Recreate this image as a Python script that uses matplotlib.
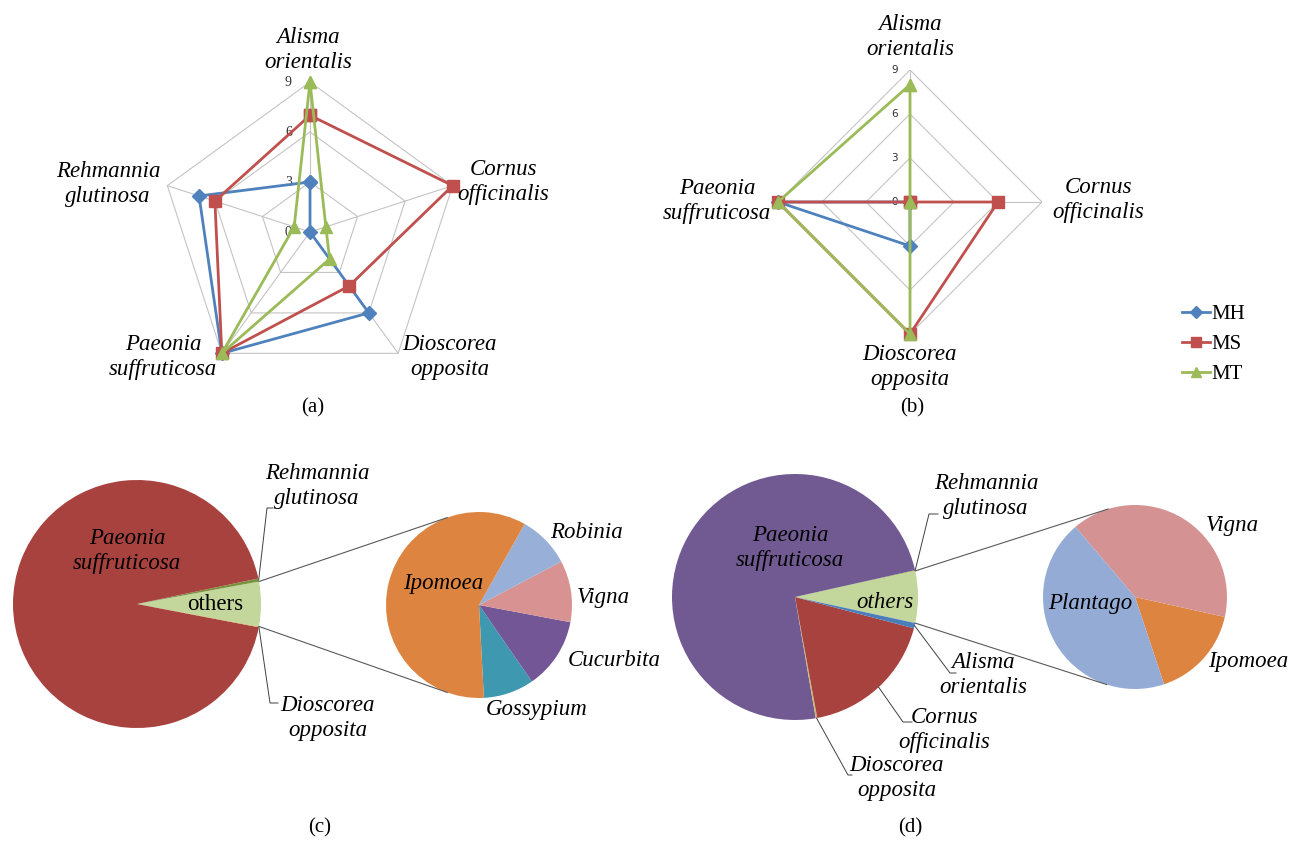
import numpy as np
import matplotlib.pyplot as plt

plt.rcParams['font.family'] = ['Liberation Serif', 'DejaVu Serif']

W, H = 1290, 843

# ── Radar (a): relative abundance on the five host herbs ─────────────────────
RADAR_A_AXES = ["Alisma\norientalis", "Cornus\nofficinalis", "Dioscorea\nopposita",
                "Paeonia\nsuffruticosa", "Rehmannia\nglutinosa"]
RADAR_A_MH = [3, 0, 6, 9, 7]
RADAR_A_MS = [7, 9, 4, 9, 6]
RADAR_A_MT = [9, 1, 2, 9, 1]

# ── Radar (b): four host herbs ───────────────────────────────────────────────
RADAR_B_AXES = ["Alisma\norientalis", "Cornus\nofficinalis", "Dioscorea\nopposita",
                "Paeonia\nsuffruticosa"]
RADAR_B_MH = [0, 0, 3, 9]
RADAR_B_MS = [0, 6, 9, 9]
RADAR_B_MT = [8, 0, 9, 9]

RADAR_TICKS = [0, 3, 6, 9]
SERIES_NAMES = ["MH", "MS", "MT"]

# ── Pie (c): main pie + breakdown of "others" ────────────────────────────────
PIE_C_LABELS = ["others", "Rehmannia glutinosa", "Paeonia suffruticosa", "Dioscorea opposita"]
PIE_C_VALUES = [5.8, 0.4, 93.7, 0.1]
SUB_C_LABELS = ["Gossypium", "Cucurbita", "Vigna", "Robinia", "Ipomoea"]
SUB_C_VALUES = [8.8, 12.4, 10.7, 9.1, 59.0]

# ── Pie (d) ──────────────────────────────────────────────────────────────────
PIE_D_LABELS = ["others", "Rehmannia glutinosa", "Paeonia suffruticosa",
                "Dioscorea opposita", "Cornus officinalis", "Alisma orientalis"]
PIE_D_VALUES = [6.8, 0.1, 74.2, 0.2, 18.0, 0.7]
SUB_D_LABELS = ["Ipomoea", "Vigna", "Plantago"]
SUB_D_VALUES = [16.4, 39.7, 43.9]

# styles
SERIES_STYLE = [("#4F81BD", "D", 7), ("#C0504D", "s", 8.5), ("#9BBB59", "^", 9)]
GRID_C = "#C4C4C4"
LABEL_FS = 16.5

fig = plt.figure(figsize=(W / 100, H / 100), dpi=100)


def px_box(cx, cy, r):
    """Axes rectangle (figure fraction) for a square of half-size r px centred at (cx, cy)."""
    return [(cx - r) / W, 1 - (cy + r) / H, 2 * r / W, 2 * r / H]


def draw_radar(cx, cy, r, series, tick_font, tick_fs, tick_dx):
    ax = fig.add_axes(px_box(cx, cy, r))
    n = len(series[0])
    ang = np.deg2rad(90 - 360 * np.arange(n) / n)
    top = RADAR_TICKS[-1]
    for lv in RADAR_TICKS[1:]:
        xs = np.append(lv * np.cos(ang), lv * np.cos(ang[0]))
        ys = np.append(lv * np.sin(ang), lv * np.sin(ang[0]))
        ax.plot(xs, ys, color=GRID_C, lw=0.8, zorder=1)
    for a in ang:
        ax.plot([0, top * np.cos(a)], [0, top * np.sin(a)], color=GRID_C, lw=0.8, zorder=1)
    for lv in RADAR_TICKS:
        ax.text(-tick_dx, lv, str(lv), ha="center", va="center", fontsize=tick_fs,
                family=tick_font, color="#303030", zorder=2)
    handles = []
    for vals, (col, mk, ms), name in zip(series, SERIES_STYLE, SERIES_NAMES):
        v = np.asarray(vals, float)
        xs = np.append(v * np.cos(ang), v[0] * np.cos(ang[0]))
        ys = np.append(v * np.sin(ang), v[0] * np.sin(ang[0]))
        h, = ax.plot(xs, ys, color=col, lw=2.0, marker=mk, ms=ms, mec=col, mfc=col,
                     zorder=3, label=name, clip_on=False)
        handles.append(h)
    ax.set_xlim(-top, top)
    ax.set_ylim(-top, top)
    ax.axis("off")
    return handles


draw_radar(310, 232, 150, [RADAR_A_MH, RADAR_A_MS, RADAR_A_MT],
           "Liberation Serif", 10, 1.3)
handles = draw_radar(910, 202, 132, [RADAR_B_MH, RADAR_B_MS, RADAR_B_MT],
                     "DejaVu Sans", 7.5, 1.05)


def pie_axes(cx, cy, r, values, colors, startangle):
    ax = fig.add_axes(px_box(cx, cy, r))
    ax.pie(values, colors=colors, startangle=startangle, counterclock=True,
           wedgeprops=dict(edgecolor="none"))
    ax.set_xlim(-1, 1)
    ax.set_ylim(-1, 1)
    ax.set_aspect("equal")
    return ax


def wedge_angles(values, startangle):
    """Start/end angle in degrees of each wedge, counter-clockwise."""
    v = np.asarray(values, float)
    cum = np.concatenate([[0], np.cumsum(v / v.sum() * 360)])
    return startangle + cum[:-1], startangle + cum[1:]


def rim(cx, cy, r, deg):
    t = np.deg2rad(deg)
    return cx + r * np.cos(t), cy - r * np.sin(t)


# pie (c)
C_BIG = (137, 604, 124)
C_SUB = (479, 605, 93)
c_start = -PIE_C_VALUES[0] / sum(PIE_C_VALUES) * 180
pie_axes(*C_BIG, PIE_C_VALUES, ["#C3D69B", "#77933C", "#A8423F", "#C9B86A"], c_start)
sub_c_start = -87
pie_axes(*C_SUB, SUB_C_VALUES, ["#3E99B0", "#735696", "#D79291", "#98B0D8", "#DD8540"],
         sub_c_start)

# pie (d)
D_BIG = (795, 597, 123)
D_SUB = (1135, 597, 92)
d_start = -PIE_D_VALUES[0] / sum(PIE_D_VALUES) * 180
pie_axes(*D_BIG, PIE_D_VALUES,
         ["#C3D69B", "#9BBB59", "#715A92", "#C9B86A", "#A8423F", "#4A7EBB"], d_start)
sub_d_start = -71.6
pie_axes(*D_SUB, SUB_D_VALUES, ["#DD8540", "#D49392", "#94ABD5"], sub_d_start)

# overlay in pixel coordinates for texts, connectors and leaders
ov = fig.add_axes([0, 0, 1, 1], facecolor="none")
ov.set_xlim(0, W)
ov.set_ylim(H, 0)
ov.axis("off")
ov.set_zorder(10)


def itext(x, y, s, italic=True, fs=LABEL_FS, ha="center"):
    ov.text(x, y, s, ha=ha, va="center", fontsize=fs,
            style="italic" if italic else "normal", linespacing=1.3)


# radar labels
for lab, pos in zip(RADAR_A_AXES, [(308, 50), (503, 182), (450, 357), (163, 357), (108, 184)]):
    itext(*pos, lab)
for lab, pos in zip(RADAR_B_AXES, [(910, 37), (1098, 200), (910, 367), (717, 201)]):
    itext(*pos, lab)

itext(313, 408, "(a)", italic=False, fs=15)
itext(912, 408, "(b)", italic=False, fs=15)
itext(320, 828, "(c)", italic=False, fs=15)
itext(910, 828, "(d)", italic=False, fs=15)

fig.legend(handles=handles, loc="center left", bbox_to_anchor=(1172 / W, 1 - 344 / H),
           frameon=False, fontsize=15, handlelength=1.3, handletextpad=0.1,
           labelspacing=0.5, borderpad=0, markerscale=0.85)


def connector(big, big_deg, sub, sub_deg):
    x0, y0 = rim(*big, big_deg)
    x1, y1 = rim(*sub, sub_deg)
    ov.plot([x0, x1], [y0, y1], color="#595959", lw=0.8)


def leader(big, deg, pts):
    x0, y0 = rim(*big, deg)
    xs = [x0] + [p[0] for p in pts]
    ys = [y0] + [p[1] for p in pts]
    ov.plot(xs, ys, color="#404040", lw=0.7)


# (c) annotations
cs, ce = wedge_angles(PIE_C_VALUES, c_start)
connector(C_BIG, ce[0], C_SUB, 110)
connector(C_BIG, cs[0], C_SUB, -110)
leader(C_BIG, (cs[1] + ce[1]) / 2, [(267, 508), (273, 508)])
leader(C_BIG, (cs[3] + ce[3]) / 2, [(270, 703), (278, 703)])
itext(127, 551, "Paeonia\nsuffruticosa")
itext(215, 605, "others", italic=False)
itext(317, 486, "Rehmannia\nglutinosa")
itext(328, 718, "Dioscorea\nopposita")
for lab, pos in zip(SUB_C_LABELS, [(537, 709), (614, 660), (603, 597), (586, 533), (443, 584)]):
    itext(*pos, lab)

# (d) annotations
ds, de = wedge_angles(PIE_D_VALUES, d_start)
connector(D_BIG, de[0], D_SUB, 107)
connector(D_BIG, ds[0], D_SUB, -108)
leader(D_BIG, (ds[1] + de[1]) / 2, [(929, 514), (938, 514)])
leader(D_BIG, (ds[5] + de[5]) / 2, [(950, 673), (956, 673)])
leader(D_BIG, (ds[4] + de[4]) / 2, [(903, 722), (912, 722)])
leader(D_BIG, (ds[3] + de[3]) / 2, [(848, 775), (852, 775)])
itext(790, 548, "Paeonia\nsuffruticosa")
itext(885, 603, "others")
itext(986, 496, "Rehmannia\nglutinosa")
itext(983, 675, "Alisma\norientalis")
itext(944, 730, "Cornus\nofficinalis")
itext(897, 778, "Dioscorea\nopposita")
for lab, pos in zip(SUB_D_LABELS, [(1248, 662), (1232, 525), (1090, 604)]):
    itext(*pos, lab)

fig.savefig("out.png", dpi=100, facecolor="white")
